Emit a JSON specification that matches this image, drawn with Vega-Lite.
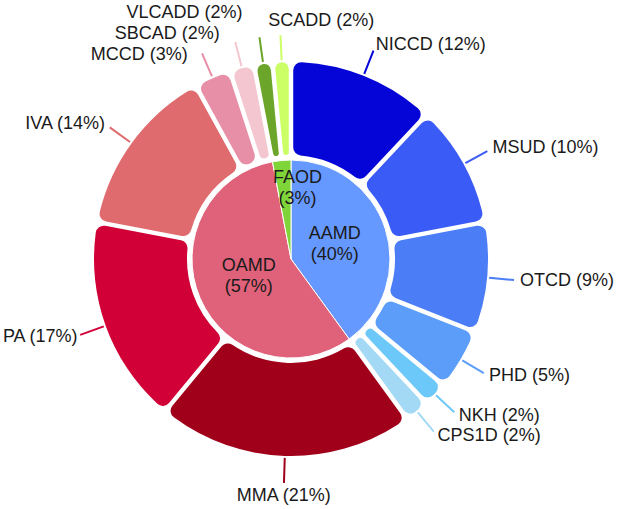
{
  "$schema": "https://vega.github.io/schema/vega-lite/v6.json",
  "width": 582,
  "height": 518,
  "autosize": "none",
  "padding": {"left": 0, "top": 0, "right": 38, "bottom": 0},
  "background": "white",
  "config": {"view": {"stroke": null}},
  "datasets": {
    "inner": [
      {"name": "AAMD", "label": "AAMD (40%)", "value": 40, "idx": 1},
      {"name": "OAMD", "label": "OAMD (57%)", "value": 57, "idx": 2},
      {"name": "FAOD", "label": "FAOD (3%)", "value": 3, "idx": 3}
    ],
    "outer": [
      {"name": "NICCD", "label": "NICCD (12%)", "value": 12, "idx": 1},
      {"name": "MSUD", "label": "MSUD (10%)", "value": 10, "idx": 2},
      {"name": "OTCD", "label": "OTCD (9%)", "value": 9, "idx": 3},
      {"name": "PHD", "label": "PHD (5%)", "value": 5, "idx": 4},
      {"name": "NKH", "label": "NKH (2%)", "value": 2, "idx": 5},
      {"name": "CPS1D", "label": "CPS1D (2%)", "value": 2, "idx": 6},
      {"name": "MMA", "label": "MMA (21%)", "value": 21, "idx": 7},
      {"name": "PA", "label": "PA (17%)", "value": 17, "idx": 8},
      {"name": "IVA", "label": "IVA (14%)", "value": 14, "idx": 9},
      {"name": "MCCD", "label": "MCCD (3%)", "value": 3, "idx": 10},
      {"name": "SBCAD", "label": "SBCAD (2%)", "value": 2, "idx": 11},
      {"name": "VLCADD", "label": "VLCADD (2%)", "value": 1.5, "idx": 12},
      {"name": "SCADD", "label": "SCADD (2%)", "value": 1.5, "idx": 13}
    ]
  },
  "layer": [
    {
      "data": {"name": "outer"},
      "mark": {"type": "arc", "innerRadius": 104, "outerRadius": 197, "cornerRadius": 8, "padAngle": 0.02},
      "encoding": {
        "theta": {"field": "value", "type": "quantitative", "stack": true, "scale": {"domain": [0, 100]}},
        "order": {"field": "idx", "type": "quantitative"},
        "color": {
          "field": "name", "type": "nominal", "legend": null,
          "scale": {
            "domain": ["NICCD", "MSUD", "OTCD", "PHD", "NKH", "CPS1D", "MMA", "PA", "IVA", "MCCD", "SBCAD", "VLCADD", "SCADD", "AAMD", "OAMD", "FAOD"],
            "range": ["#0505D8", "#3B5BF6", "#4B7DF6", "#5B9DF8", "#6CC8F8", "#A4D9F5", "#A1001A", "#D10036", "#E06B6E", "#E68FA6", "#F4C6CF", "#6BA52A", "#CCFF66", "#6699FF", "#E0627A", "#7FD43A"]
          }
        }
      }
    },
    {
      "data": {"name": "outer"},
      "mark": {"type": "arc", "innerRadius": 199, "outerRadius": 224, "padAngle": 3, "filled": false, "strokeWidth": 2},
      "encoding": {
        "theta": {"field": "value", "type": "quantitative", "stack": true, "scale": {"domain": [0, 100]}},
        "order": {"field": "idx", "type": "quantitative"},
        "color": {"field": "name", "type": "nominal", "legend": null}
      }
    },
    {
      "data": {"name": "inner"},
      "mark": {"type": "arc", "outerRadius": 99, "stroke": "white", "strokeWidth": 1},
      "encoding": {
        "theta": {"field": "value", "type": "quantitative", "stack": true, "scale": {"domain": [0, 100]}},
        "order": {"field": "idx", "type": "quantitative"},
        "color": {"field": "name", "type": "nominal", "legend": null}
      }
    },
    {
      "data": {"name": "outer"},
      "mark": {
        "type": "text", "radius": 230, "font": "Liberation Sans", "fontSize": 18, "color": "#1a1a1a", "baseline": "middle",
        "align": {"expr": "(datum.value_start + datum.value_end) / 2 > 98 || (datum.value_start + datum.value_end) / 2 < 48 ? 'left' : ((datum.value_start + datum.value_end) / 2 < 53 ? 'center' : 'right')"},
        "dx": {"expr": "datum.name == 'VLCADD' ? -16 : (datum.name == 'SCADD' ? -12 : (datum.name == 'SBCAD' ? -14 : (datum.name == 'MCCD' ? -12 : (datum.name == 'PA' ? 3 : 0))))"},
        "dy": {"expr": "datum.name == 'VLCADD' ? -18 : (datum.name == 'SCADD' ? -8 : (datum.name == 'MMA' ? 7 : (datum.name == 'MCCD' ? 7 : (datum.name == 'SBCAD' ? -2 : 0))))"}
      },
      "encoding": {
        "theta": {"field": "value", "type": "quantitative", "stack": true, "scale": {"domain": [0, 100]}},
        "order": {"field": "idx", "type": "quantitative"},
        "text": {"field": "label"}
      }
    },
    {
      "data": {"name": "inner"},
      "mark": {
        "type": "text", "font": "Liberation Sans", "fontSize": 18, "color": "#1a1a1a", "baseline": "middle", "align": "center",
        "lineBreak": " ", "lineHeight": 21, "dy": -11,
        "radius": {"expr": "datum.name == 'FAOD' ? 70 : 46"},
        "dx": {"expr": "datum.name == 'FAOD' ? 13 : 0"}
      },
      "encoding": {
        "theta": {"field": "value", "type": "quantitative", "stack": true, "scale": {"domain": [0, 100]}},
        "order": {"field": "idx", "type": "quantitative"},
        "text": {"field": "label"}
      }
    }
  ]
}
